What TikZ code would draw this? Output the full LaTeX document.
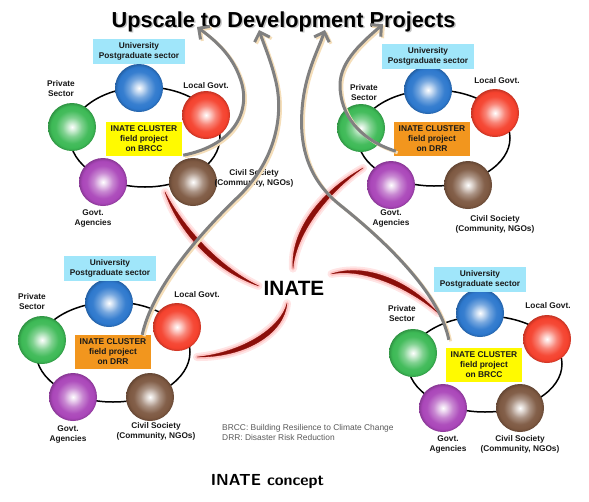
\documentclass[tikz,border=0pt]{standalone}
\usepackage{fontspec}
\setmainfont{Liberation Sans}
\usetikzlibrary{arrows.meta,calc}

\definecolor{cG}{RGB}{60,185,85}
\definecolor{cB}{RGB}{45,120,205}
\definecolor{cR}{RGB}{245,65,45}
\definecolor{cP}{RGB}{170,70,185}
\definecolor{cN}{RGB}{125,88,65}
\definecolor{cyanbox}{RGB}{160,230,250}
\definecolor{yelbox}{RGB}{255,250,0}
\definecolor{orabox}{RGB}{242,150,30}
\definecolor{inred}{RGB}{140,15,10}
\definecolor{arrgray}{RGB}{128,128,128}
\definecolor{arrshadow}{RGB}{245,222,185}
\definecolor{txt}{RGB}{25,25,25}
\definecolor{notegray}{RGB}{90,90,90}

\newcommand\mkshade[1]{\pgfdeclareradialshading{sh#1}{\pgfpoint{0bp}{0bp}}{color(0bp)=(white); color(4bp)=(#1!25!white); color(10bp)=(#1!65!white); color(17bp)=(#1!95!white); color(22bp)=(#1); color(25bp)=(#1!80!black); color(50bp)=(#1!80!black)}}
\mkshade{cG}\mkshade{cB}\mkshade{cR}\mkshade{cP}\mkshade{cN}

\tikzset{
  sphere/.style={circle, shade, shading=#1, minimum size=48pt, inner sep=0pt},
  ring/.style={draw=black, line width=1.5pt},
  unibox/.style={fill=cyanbox, minimum width=92pt, minimum height=25pt, inner sep=1pt, align=center, text=txt, font=\fontsize{8.3}{10}\selectfont\bfseries},
  clbox/.style={minimum width=76pt, minimum height=34pt, inner sep=1pt, align=center, text=txt, font=\fontsize{8.4}{10}\selectfont\bfseries},
  lbl/.style={align=center, inner sep=0pt, text=txt, font=\fontsize{8.3}{10}\selectfont\bfseries},
  glowA/.style={draw=red, line width=8pt, opacity=0.10, line join=round},
  glowB/.style={draw=red!80!white, line width=4pt, opacity=0.18, line join=round},
  redfill/.style={fill=inred, draw=inred, line width=0.3pt},
  upshadow/.style={draw=arrshadow, line width=3pt, -{Straight Barb[length=8pt,width=16pt,line width=3pt]}, transform canvas={shift={(1.8pt,-1.5pt)}}},
  uparrow/.style={draw=arrgray, line width=3pt, -{Straight Barb[length=8pt,width=16pt,line width=3pt]}},
}

\newcommand\redcurve[6]{%
  \path[glowA] (#1) .. controls ($(#2)+(#5,#6)$) and ($(#3)+(#5,#6)$) .. (#4) .. controls ($(#3)-(#5,#6)$) and ($(#2)-(#5,#6)$) .. (#1) -- cycle;
  \path[glowB] (#1) .. controls ($(#2)+(#5,#6)$) and ($(#3)+(#5,#6)$) .. (#4) .. controls ($(#3)-(#5,#6)$) and ($(#2)-(#5,#6)$) .. (#1) -- cycle;
  \path[redfill] (#1) .. controls ($(#2)+(#5,#6)$) and ($(#3)+(#5,#6)$) .. (#4) .. controls ($(#3)-(#5,#6)$) and ($(#2)-(#5,#6)$) .. (#1) -- cycle;
}

\begin{document}
\begin{tikzpicture}[x=1pt,y=-1pt]
\useasboundingbox[fill=white] (0,0) rectangle (589,501);

% ---------- title ----------
\node[anchor=base, text=gray, opacity=0.45, font=\fontsize{21.7}{24}\selectfont\bfseries] (titleshadow) at (285,28.5) {Upscale to Development Projects};
\node[anchor=base, text=black, font=\fontsize{21.7}{24}\selectfont\bfseries] (title) at (283.5,27) {Upscale to Development Projects};

% ---------- INATE ----------
\node[anchor=base, inner sep=0pt, text=black, font=\fontsize{20.7}{24}\selectfont\bfseries] (inate) at (294,295) {INATE};

\coordinate (r1a) at (165,192);
\coordinate (r1b) at ($(inate.west)+(-5,-2)$);
\coordinate (r2a) at ($(inate.north)+(-1,-12)$);
\coordinate (r2b) at (363,168);
\coordinate (r3a) at ($(inate.south)+(-7,8)$);
\coordinate (r3b) at (197,357);
\coordinate (r4a) at ($(inate.east)+(7,-14)$);
\coordinate (r4b) at (438,313);

\coordinate (c11) at (180,228); \coordinate (c12) at (215,268);
\coordinate (c21) at (293,235); \coordinate (c22) at (320,195);
\coordinate (c31) at (283,330); \coordinate (c32) at (245,355);
\coordinate (c41) at (365,265); \coordinate (c42) at (410,285);

\redcurve{r1a}{c11}{c12}{r1b}{2.3}{-2.3}
\redcurve{r2a}{c21}{c22}{r2b}{2.7}{1.8}
\redcurve{r3a}{c31}{c32}{r3b}{1.7}{2.7}
\redcurve{r4a}{c41}{c42}{r4b}{-1.1}{3.0}

% ---------- cluster top left ----------
\draw[ring] (145,137) ellipse [x radius=75pt, y radius=50pt];
\node[sphere=shcB] (tlU) at (139,88) {};
\node[sphere=shcR] (tlL) at (206,115) {};
\node[sphere=shcG] (tlP) at (72,127) {};
\node[sphere=shcP] (tlA) at (103,182) {};
\node[sphere=shcN] (tlC) at (193,182) {};
\node[unibox] (tlUb) at (139,51) {University\\Postgraduate sector};
\node[lbl] (tlLl) at (206,86) {Local Govt.};
\node[lbl] (tlPl) at (61,89) {Private\\Sector};
\node[lbl] (tlAl) at (93,218) {Govt.\\Agencies};
\node[lbl] (tlCl) at (254,178) {Civil Society\\(Community, NGOs)};
\node[clbox, fill=yelbox] (tlbox) at (144,139) {INATE CLUSTER\\field project\\on BRCC};

% ---------- cluster top right ----------
\draw[ring] (434,138) ellipse [x radius=76pt, y radius=48pt];
\node[sphere=shcB] (trU) at (428,90) {};
\node[sphere=shcR] (trL) at (495,113) {};
\node[sphere=shcG] (trP) at (361,128) {};
\node[sphere=shcP] (trA) at (391,185) {};
\node[sphere=shcN] (trC) at (468,185) {};
\node[unibox] (trUb) at (428,56) {University\\Postgraduate sector};
\node[lbl] (trLl) at (497,81) {Local Govt.};
\node[lbl] (trPl) at (364,93) {Private\\Sector};
\node[lbl] (trAl) at (391,218) {Govt.\\Agencies};
\node[lbl] (trCl) at (495,224) {Civil Society\\(Community, NGOs)};
\node[clbox, fill=orabox] (trbox) at (432,139) {INATE CLUSTER\\field project\\on DRR};

% ---------- cluster bottom left ----------
\draw[ring] (113,352) ellipse [x radius=77pt, y radius=50pt];
\node[sphere=shcB] (blU) at (109,303) {};
\node[sphere=shcR] (blL) at (177,327) {};
\node[sphere=shcG] (blP) at (42,340) {};
\node[sphere=shcP] (blA) at (73,397) {};
\node[sphere=shcN] (blC) at (150,397) {};
\node[unibox] (blUb) at (110,268) {University\\Postgraduate sector};
\node[lbl] (blLl) at (197,295) {Local Govt.};
\node[lbl] (blPl) at (32,302) {Private\\Sector};
\node[lbl] (blAl) at (68,434) {Govt.\\Agencies};
\node[lbl] (blCl) at (156,431) {Civil Society\\(Community, NGOs)};
\node[clbox, fill=orabox] (blbox) at (113,352) {INATE CLUSTER\\field project\\on DRR};

% ---------- cluster bottom right ----------
\draw[ring] (485,364) ellipse [x radius=77pt, y radius=48pt];
\node[sphere=shcB] (brU) at (480,313) {};
\node[sphere=shcR] (brL) at (547,339) {};
\node[sphere=shcG] (brP) at (413,353) {};
\node[sphere=shcP] (brA) at (443,408) {};
\node[sphere=shcN] (brC) at (520,408) {};
\node[unibox] (brUb) at (480,279) {University\\Postgraduate sector};
\node[lbl] (brLl) at (548,306) {Local Govt.};
\node[lbl] (brPl) at (402,314) {Private\\Sector};
\node[lbl] (brAl) at (448,444) {Govt.\\Agencies};
\node[lbl] (brCl) at (520,444) {Civil Society\\(Community, NGOs)};
\node[clbox, fill=yelbox] (brbox) at (484,365) {INATE CLUSTER\\field project\\on BRCC};

% ---------- upscale arrows ----------
\coordinate (tipA) at (197,27);
\coordinate (tipB) at (259,30);
\coordinate (tipC) at (325,30);
\coordinate (tipD) at (383,24);
\coordinate (stA) at ($(tlbox.south east)+(1,-1)$);
\coordinate (stB) at ($(blbox.north east)+(-9,0)$);
\coordinate (stC) at ($(brbox.north west)+(3,-8)$);
\coordinate (stD) at ($(trbox.south west)+(2,-5)$);

\foreach \st in {upshadow,uparrow}{
  \draw[\st] (stA) .. controls (235,145) and (252,110) .. (240,78) .. controls (232,55) and (215,40) .. (tipA);
  \draw[\st] (stB) .. controls (152,290) and (195,238) .. (240,195) .. controls (275,160) and (285,115) .. (275,78) .. controls (270,58) and (264,45) .. (tipB);
  \draw[\st] (stC) .. controls (440,295) and (390,245) .. (340,205) .. controls (305,177) and (298,140) .. (303,100) .. controls (307,70) and (318,50) .. (tipC);
  \draw[\st] (stD) .. controls (360,140) and (340,115) .. (340,85) .. controls (340,60) and (365,40) .. (tipD);
}

% ---------- notes ----------
\node[anchor=west, align=left, inner sep=0pt, text=notegray, font=\fontsize{8.4}{10}\selectfont] (note) at (222,432) {BRCC: Building Resilience to Climate Change\\DRR: Disaster Risk Reduction};
\node[anchor=base, inner sep=0pt, text=black, font=\sffamily\bfseries\fontsize{16}{18}\selectfont] (caption) at (267.5,485) {INATE concept};
\end{tikzpicture}
\end{document}
